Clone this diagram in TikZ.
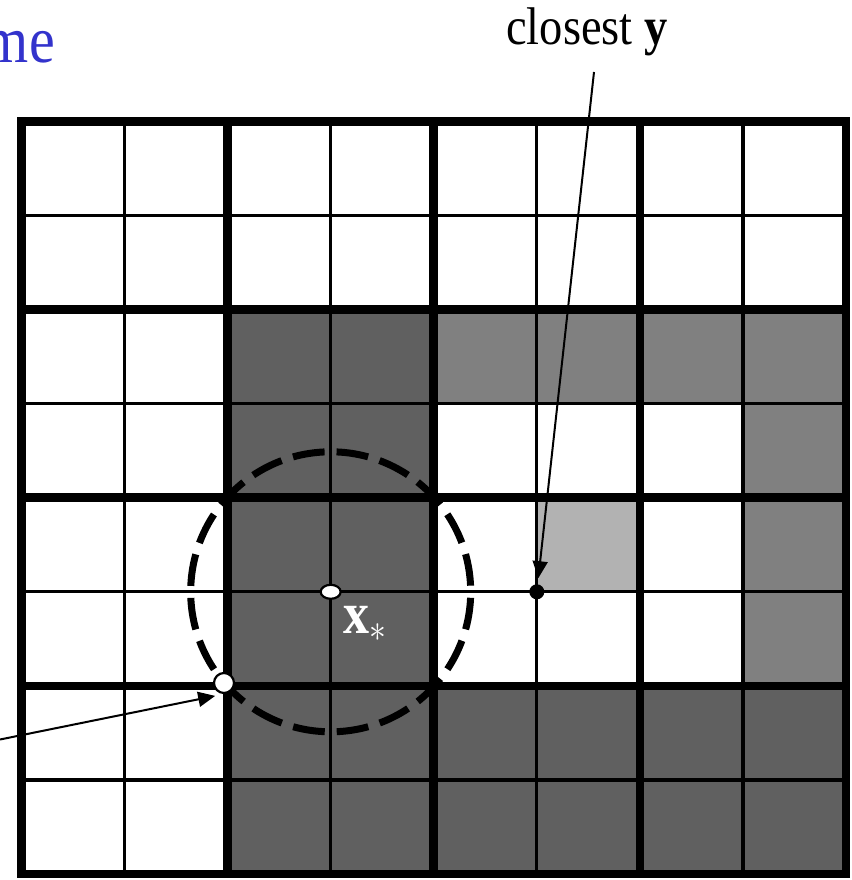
\documentclass[tikz,border=0pt]{standalone}
\usepackage{fontspec}
\setmainfont{Liberation Serif}
\usetikzlibrary{arrows.meta,positioning,shapes.geometric}
\definecolor{titleblue}{RGB}{51,51,204}
\definecolor{cellDark}{RGB}{96,96,96}
\definecolor{cellMid}{RGB}{128,128,128}
\definecolor{cellLight}{RGB}{178,178,178}

\begin{document}
\begin{tikzpicture}[x=1pt,y=-1pt,
  thinrule/.style={line width=3.2pt},
  thickrule/.style={line width=8.5pt},
  darkcell/.style={fill=cellDark},
  midcell/.style={fill=cellMid},
  lightcell/.style={fill=cellLight},
  ball/.style={draw,line width=7pt,dash pattern=on 32pt off 11.98pt,dash phase=38pt},
  pointer/.style={-{Triangle[length=17pt,width=15pt]},line width=2pt},
  hollow/.style={circle,draw,fill=white,line width=2.2pt,minimum size=20pt,inner sep=0pt},
  query/.style={ellipse,draw,fill=white,line width=2.2pt,minimum width=20pt,minimum height=14pt,inner sep=0pt},
  dot/.style={circle,fill=black,minimum size=15pt,inner sep=0pt},
  lbl/.style={inner sep=0pt}
]
\useasboundingbox (0,0) rectangle (851,880);
\begin{scope}[shift={(21.5,121.5)},x=103.06pt,y=-94.06pt]
% shaded cells
\foreach \r in {2,...,7} \foreach \c in {2,3} \fill[darkcell] (\c,\r) rectangle ++(1,1);
\foreach \r in {6,7} \foreach \c in {4,...,7} \fill[darkcell] (\c,\r) rectangle ++(1,1);
\foreach \c in {4,...,7} \fill[midcell] (\c,2) rectangle ++(1,1);
\foreach \r in {3,4,5} \fill[midcell] (7,\r) rectangle ++(1,1);
\fill[lightcell] (5,4) rectangle ++(1,1);
% grid
\foreach \i in {1,3,5,7} {
  \draw[thinrule] (\i,0) -- (\i,8);
  \draw[thinrule] (0,\i) -- (8,\i);
}
\foreach \i in {2,4,6} {
  \draw[thickrule] (\i,0) -- (\i,8);
  \draw[thickrule] (0,\i) -- (8,\i);
}
\draw[thickrule] (0,0) rectangle (8,8);
\node[query] (xstar) at (3,5) {};
\node[dot] (ycl) at (5,5) {};
\end{scope}
\draw[ball] (xstar.center) circle[radius=140];
\node[hollow] (corner) at (224,683) {};
% labels
\node[lbl,anchor=base east,text=titleblue,font=\fontsize{58}{60}\selectfont] (title) at (55,62.3) {\scalebox{1}[1.14]{me}};
\node[lbl,anchor=base west,font=\fontsize{46.5}{50}\selectfont] (closest) at (506,45) {\scalebox{1}[1.14]{closest \textbf{y}}};
\node[lbl,anchor=base west,text=white,font=\fontsize{52}{54}\selectfont] (xlabel) at (343,633) {\scalebox{1}[1.14]{$\mathbf{x}_{\scalebox{1.35}{$\scriptstyle\ast$}}$}};
% pointers
\coordinate (ytail) at (594,72);
\coordinate (ctail) at (0,739.5);
\draw[pointer,shorten >=6pt] (ytail) -- (ycl);
\draw[pointer,shorten >=9pt] (ctail) -- (corner.south);
\end{tikzpicture}
\end{document}
